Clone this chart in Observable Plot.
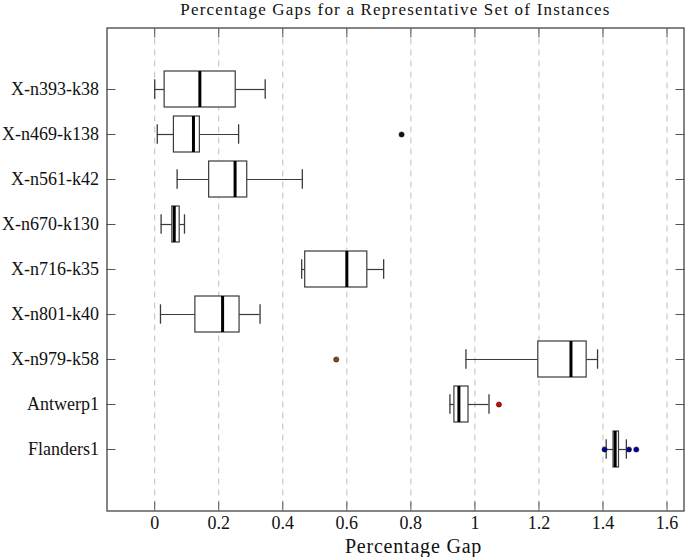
<!DOCTYPE html>
<html>
<head>
<meta charset="utf-8">
<script src="https://cdn.jsdelivr.net/npm/d3@7"></script>
<script src="https://cdn.jsdelivr.net/npm/@observablehq/plot@0.6"></script>
<style>
  html, body { margin: 0; padding: 0; background: #fff; }
  svg { display: block; }
</style>
</head>
<body>
<div id="chart"></div>
<script>
const names = ["X-n393-k38", "X-n469-k138", "X-n561-k42", "X-n670-k130", "X-n716-k35", "X-n801-k40", "X-n979-k58", "Antwerp1", "Flanders1"];
const whiskerLow  = [0.000, 0.008, 0.070, 0.020, 0.459, 0.018, 0.972, 0.922, 1.410];
const q1          = [0.031, 0.060, 0.170, 0.055, 0.470, 0.127, 1.198, 0.936, 1.433];
const medians     = [0.141, 0.121, 0.251, 0.061, 0.600, 0.212, 1.300, 0.950, 1.438];
const q3          = [0.253, 0.141, 0.289, 0.078, 0.664, 0.265, 1.349, 0.980, 1.450];
const whiskerHigh = [0.345, 0.262, 0.461, 0.093, 0.715, 0.329, 1.383, 1.044, 1.473];

const outlierNames  = ["X-n469-k138", "X-n979-k58", "Antwerp1", "Flanders1", "Flanders1", "Flanders1"];
const outlierValues = [0.771, 0.567, 1.075, 1.405, 1.481, 1.504];
const outlierColors = ["#111111", "#8b4513", "#e00000", "#0000a0", "#0000a0", "#0000a0"];

const xTicks = [0, 0.2, 0.4, 0.6, 0.8, 1, 1.2, 1.4, 1.6];
const title = "Percentage Gaps for a Representative Set of Instances";
const xLabel = "Percentage Gap";

const boxes = names.map((n, i) => ({name: n, lo: whiskerLow[i], q1: q1[i], med: medians[i], q3: q3[i], hi: whiskerHigh[i]}));
const outliers = outlierNames.map((n, i) => ({name: n, v: outlierValues[i], c: outlierColors[i]}));

const font = "'Liberation Serif', 'Times New Roman', serif";
const boxStroke = "#3a3a3a";

const chart = Plot.plot({
  width: 685,
  height: 557,
  marginLeft: 106.5,
  marginRight: 1.5,
  marginTop: 27.5,
  marginBottom: 46.5,
  style: {fontFamily: font, fontSize: "17px", color: "#111", background: "#fff"},
  x: {domain: [-0.149, 1.653], label: null},
  y: {domain: names, type: "band", paddingInner: 0.2, paddingOuter: 0.875, label: null},
  marks: [
    Plot.gridX(xTicks, {stroke: "#bdbdbd", strokeOpacity: 1, strokeDasharray: "6,5", strokeWidth: 1}),
    // whiskers
    Plot.ruleY(boxes, {y: "name", x1: "lo", x2: "q1", stroke: boxStroke, strokeWidth: 1.2}),
    Plot.ruleY(boxes, {y: "name", x1: "q3", x2: "hi", stroke: boxStroke, strokeWidth: 1.2}),
    Plot.tickX(boxes, {y: "name", x: "lo", stroke: boxStroke, strokeWidth: 1.3, insetTop: 8.3, insetBottom: 8.3}),
    Plot.tickX(boxes, {y: "name", x: "hi", stroke: boxStroke, strokeWidth: 1.3, insetTop: 8.3, insetBottom: 8.3}),
    // boxes
    Plot.barX(boxes, {y: "name", x1: "q1", x2: "q3", fill: "white", stroke: boxStroke, strokeWidth: 1.2}),
    Plot.tickX(boxes, {y: "name", x: "med", stroke: "#000", strokeWidth: 3}),
    // outliers
    Plot.dot(outliers, {y: "name", x: "v", fill: "c", r: 2.6, stroke: "#222", strokeWidth: 0.6}),
    // axes
    Plot.axisY({anchor: "left", tickSize: -9, tickPadding: 17, fontSize: 18, stroke: "#555", tickFormat: d => d, label: null}),
    Plot.axisY({anchor: "right", tickSize: -9, tickFormat: () => "", stroke: "#555", label: null}),
    Plot.axisX(xTicks, {anchor: "bottom", tickSize: -9, tickPadding: 14, fontSize: 18, stroke: "#555", tickFormat: d => String(+d.toFixed(1)), label: null}),
    Plot.axisX(xTicks, {anchor: "top", tickSize: -9, tickFormat: () => "", stroke: "#555", label: null}),
    Plot.frame({stroke: "#444", strokeWidth: 1.3}),
    Plot.text([title], {frameAnchor: "top", lineAnchor: "middle", dy: -18.5, fontSize: 17, fill: "#111", text: d => d}),
    Plot.text([xLabel], {frameAnchor: "bottom", lineAnchor: "middle", dx: 18, dy: 36, fontSize: 20, fill: "#111", text: d => d})
  ]
});
d3.select(chart).selectAll("text").filter(function() { return this.textContent === title; }).attr("letter-spacing", "1.2px");
d3.select(chart).selectAll("text").filter(function() { return this.textContent === xLabel; }).attr("letter-spacing", "0.8px");
document.getElementById("chart").appendChild(chart);
</script>
</body>
</html>
